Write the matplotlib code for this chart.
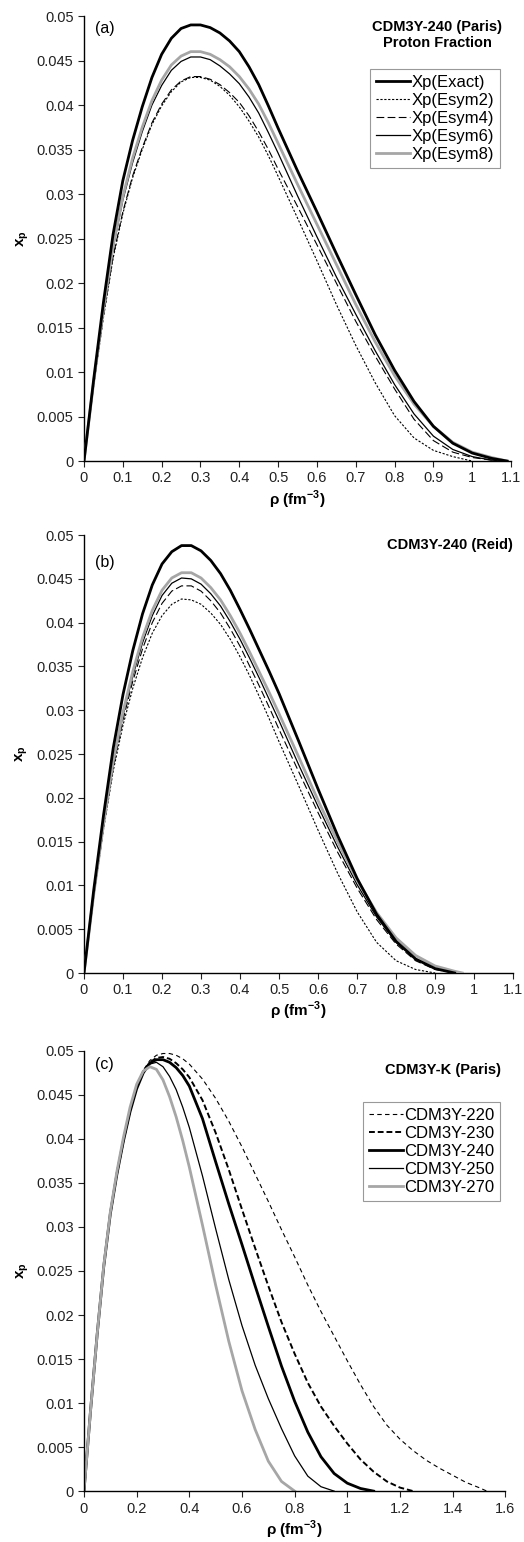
import numpy as np
import matplotlib
matplotlib.use('Agg')
import matplotlib.pyplot as plt

plt.rcParams['font.family'] = ['Liberation Sans', 'DejaVu Sans']
plt.rcParams['mathtext.fontset'] = 'custom'
plt.rcParams['mathtext.rm'] = 'Liberation Sans'
plt.rcParams['mathtext.bf'] = 'Liberation Sans:bold'

nan = np.nan

# (a) CDM3Y-240 (Paris)
rho_a = [0, 0.025, 0.05, 0.075, 0.1, 0.125, 0.15, 0.175, 0.2, 0.225, 0.25, 0.275, 0.3, 0.325,
         0.35, 0.375, 0.4, 0.425, 0.45, 0.475, 0.5, 0.55, 0.6, 0.65, 0.7, 0.75, 0.8, 0.85, 0.9,
         0.95, 1.0, 1.05, 1.09]
exact_a = [0, 0.0092, 0.0178, 0.0255, 0.0315, 0.0360, 0.0398, 0.0431, 0.0457, 0.0475, 0.0486,
           0.0490, 0.0490, 0.0487, 0.0481, 0.0472, 0.0460, 0.0443, 0.0423, 0.0399, 0.0374,
           0.0326, 0.0280, 0.0233, 0.0187, 0.0142, 0.0102, 0.0067, 0.0039, 0.0020, 0.0009,
           0.0003, 0.0]
esym2_a = [0, 0.0085, 0.0161, 0.0228, 0.0278, 0.0318, 0.0350, 0.0378, 0.0399, 0.0415, 0.0426,
           0.0431, 0.0431, 0.0428, 0.0421, 0.0411, 0.0398, 0.0382, 0.0364, 0.0343, 0.0320,
           0.0273, 0.0225, 0.0176, 0.0130, 0.0088, 0.0051, 0.0026, 0.0012, 0.0005, 0.0, nan, nan]
esym4_a = [0, 0.0086, 0.0163, 0.0230, 0.0280, 0.0320, 0.0352, 0.0380, 0.0401, 0.0417, 0.0427,
           0.0432, 0.0432, 0.0429, 0.0423, 0.0414, 0.0403, 0.0388, 0.0370, 0.0350, 0.0328,
           0.0286, 0.0243, 0.0200, 0.0157, 0.0118, 0.0081, 0.0047, 0.0023, 0.0010, 0.0004,
           0.0001, 0.0]
esym6_a = [0, 0.0088, 0.0168, 0.0239, 0.0293, 0.0335, 0.0370, 0.0400, 0.0422, 0.0439, 0.0449,
           0.0454, 0.0454, 0.0451, 0.0444, 0.0435, 0.0424, 0.0409, 0.0391, 0.0369, 0.0346,
           0.0298, 0.0252, 0.0207, 0.0165, 0.0124, 0.0086, 0.0053, 0.0028, 0.0013, 0.0005,
           0.0001, 0.0]
esym8_a = [0, 0.0089, 0.0170, 0.0242, 0.0297, 0.0340, 0.0375, 0.0405, 0.0428, 0.0445, 0.0455,
           0.0460, 0.0460, 0.0457, 0.0451, 0.0443, 0.0432, 0.0418, 0.0401, 0.0380, 0.0357,
           0.0311, 0.0266, 0.0221, 0.0176, 0.0134, 0.0096, 0.0064, 0.0039, 0.0021, 0.0010,
           0.0004, 0.0]

# (b) CDM3Y-240 (Reid)
rho_b = [0, 0.025, 0.05, 0.075, 0.1, 0.125, 0.15, 0.175, 0.2, 0.225, 0.25, 0.275, 0.3, 0.325,
         0.35, 0.375, 0.4, 0.425, 0.45, 0.475, 0.5, 0.55, 0.6, 0.65, 0.7, 0.75, 0.8, 0.85, 0.9,
         0.95, 0.97]
exact_b = [0, 0.0095, 0.0180, 0.0257, 0.0318, 0.0368, 0.0410, 0.0443, 0.0467, 0.0481, 0.0488,
           0.0488, 0.0482, 0.0471, 0.0456, 0.0437, 0.0415, 0.0392, 0.0368, 0.0344, 0.0319,
           0.0265, 0.0210, 0.0157, 0.0108, 0.0067, 0.0036, 0.0016, 0.0005, 0.0, nan]
esym2_b = [0, 0.0087, 0.0164, 0.0231, 0.0283, 0.0325, 0.0360, 0.0388, 0.0408, 0.0421, 0.0427,
           0.0426, 0.0421, 0.0411, 0.0398, 0.0381, 0.0361, 0.0339, 0.0315, 0.0290, 0.0264,
           0.0214, 0.0163, 0.0114, 0.0070, 0.0035, 0.0014, 0.0004, 0.0, nan, nan]
esym4_b = [0, 0.0088, 0.0166, 0.0235, 0.0289, 0.0333, 0.0370, 0.0400, 0.0422, 0.0436, 0.0442,
           0.0442, 0.0436, 0.0425, 0.0411, 0.0393, 0.0373, 0.0350, 0.0327, 0.0303, 0.0278,
           0.0230, 0.0183, 0.0138, 0.0097, 0.0061, 0.0033, 0.0014, 0.0004, 0.0, nan]
esym6_b = [0, 0.0089, 0.0168, 0.0239, 0.0294, 0.0339, 0.0377, 0.0408, 0.0431, 0.0445, 0.0451,
           0.0450, 0.0444, 0.0433, 0.0419, 0.0401, 0.0381, 0.0359, 0.0336, 0.0312, 0.0288,
           0.0238, 0.0190, 0.0144, 0.0101, 0.0064, 0.0035, 0.0016, 0.0005, 0.0, nan]
esym8_b = [0, 0.0090, 0.0170, 0.0242, 0.0298, 0.0344, 0.0383, 0.0414, 0.0437, 0.0451, 0.0457,
           0.0457, 0.0451, 0.0440, 0.0426, 0.0408, 0.0388, 0.0366, 0.0343, 0.0320, 0.0296,
           0.0247, 0.0197, 0.0150, 0.0106, 0.0069, 0.0040, 0.0020, 0.0008, 0.0002, 0.0]

# (c) CDM3Y-K (Paris)
rho_c = [0, 0.025, 0.05, 0.075, 0.1, 0.125, 0.15, 0.175, 0.2, 0.225, 0.25, 0.275, 0.3, 0.325,
         0.35, 0.375, 0.4, 0.45, 0.5, 0.55, 0.6, 0.65, 0.7, 0.75, 0.8, 0.85, 0.9, 0.95, 1.0,
         1.05, 1.1, 1.15, 1.2, 1.25, 1.3, 1.35, 1.4, 1.45, 1.5, 1.53]
k220 = [0, 0.0092, 0.0178, 0.0255, 0.0315, 0.0360, 0.0398, 0.0432, 0.0460, 0.0478, 0.0489,
        0.0495, 0.0497, 0.0497, 0.0495, 0.0491, 0.0485, 0.0468, 0.0446, 0.0420, 0.0391, 0.0360,
        0.0329, 0.0297, 0.0266, 0.0234, 0.0204, 0.0176, 0.0148, 0.0121, 0.0096, 0.0075, 0.0059,
        0.0046, 0.0035, 0.0026, 0.0018, 0.0010, 0.0004, 0.0]
k230 = [0, 0.0092, 0.0178, 0.0255, 0.0315, 0.0360, 0.0398, 0.0432, 0.0460, 0.0477, 0.0487,
        0.0492, 0.0493, 0.0491, 0.0486, 0.0479, 0.0470, 0.0444, 0.0407, 0.0365, 0.0320, 0.0276,
        0.0233, 0.0192, 0.0156, 0.0123, 0.0096, 0.0074, 0.0054, 0.0036, 0.0022, 0.0011, 0.0004,
        0.0, nan, nan, nan, nan, nan, nan]
k240 = [0, 0.0092, 0.0178, 0.0255, 0.0315, 0.0360, 0.0398, 0.0431, 0.0457, 0.0475, 0.0486,
        0.0490, 0.0490, 0.0487, 0.0481, 0.0472, 0.0460, 0.0423, 0.0374, 0.0326, 0.0280, 0.0233,
        0.0187, 0.0142, 0.0102, 0.0067, 0.0039, 0.0020, 0.0009, 0.0003, 0.0, nan, nan, nan, nan,
        nan, nan, nan, nan, nan]
k250 = [0, 0.0092, 0.0178, 0.0255, 0.0315, 0.0360, 0.0399, 0.0434, 0.0460, 0.0476, 0.0485,
        0.0487, 0.0482, 0.0471, 0.0456, 0.0436, 0.0413, 0.0358, 0.0298, 0.0240, 0.0188, 0.0143,
        0.0105, 0.0071, 0.0040, 0.0017, 0.0005, 0.0, nan, nan, nan, nan, nan, nan, nan, nan, nan,
        nan, nan, nan]
k270 = [0, 0.0092, 0.0178, 0.0256, 0.0317, 0.0363, 0.0402, 0.0436, 0.0462, 0.0477, 0.0482,
        0.0479, 0.0467, 0.0448, 0.0425, 0.0398, 0.0368, 0.0302, 0.0234, 0.0170, 0.0114, 0.0070,
        0.0034, 0.0011, 0.0, nan, nan, nan, nan, nan, nan, nan, nan, nan, nan, nan, nan, nan,
        nan, nan]

yticks = [0, 0.005, 0.01, 0.015, 0.02, 0.025, 0.03, 0.035, 0.04, 0.045, 0.05]
gray = '#a6a6a6'

style_esym = [
    ('Xp(Exact)', dict(color='black', lw=2.0, ls='-')),
    ('Xp(Esym2)', dict(color='black', lw=0.8, ls=(0, (2, 1.5)))),
    ('Xp(Esym4)', dict(color='black', lw=0.8, ls=(0, (7, 3)))),
    ('Xp(Esym6)', dict(color='black', lw=0.9, ls='-')),
    ('Xp(Esym8)', dict(color=gray, lw=2.0, ls='-')),
]
style_k = [
    ('CDM3Y-220', dict(color='black', lw=0.8, ls=(0, (4, 3)))),
    ('CDM3Y-230', dict(color='black', lw=1.4, ls=(0, (3, 1.5)))),
    ('CDM3Y-240', dict(color='black', lw=2.0, ls='-')),
    ('CDM3Y-250', dict(color='black', lw=0.9, ls='-')),
    ('CDM3Y-270', dict(color=gray, lw=2.0, ls='-')),
]


def setup_axis(ax, xmax, xstep):
    ax.set_xlim(0, xmax)
    ax.set_ylim(0, 0.05)
    ax.set_xticks(np.round(np.arange(0, xmax + 1e-9, xstep), 2))
    ax.xaxis.set_major_formatter(plt.FuncFormatter(lambda v, p: '{:g}'.format(v)))
    ax.set_yticks(yticks)
    ax.set_yticklabels(['{:g}'.format(v) for v in yticks])
    for side in ['top', 'right']:
        ax.spines[side].set_visible(False)
    for side in ['left', 'bottom']:
        ax.spines[side].set_linewidth(1.0)
    ax.tick_params(direction='out', length=4, width=0.8, labelsize=10.5, colors='#222222')
    ax.set_xlabel(r'$\mathbf{\rho}$ (fm$^{\mathbf{-3}}$)', fontsize=11, fontweight='bold', labelpad=2)
    ax.set_ylabel(r'x$_\mathbf{p}$', fontsize=11, fontweight='bold')
    ax.yaxis.set_label_coords(-0.125, 0.5)


def add_legend(ax, anchor):
    leg = ax.legend(loc='upper right', bbox_to_anchor=anchor, fontsize=12, handlelength=2.0,
                    handletextpad=0.1, labelspacing=0.18, borderpad=0.35, fancybox=False,
                    edgecolor='#999999', framealpha=1)
    leg.get_frame().set_linewidth(0.8)


fig = plt.figure(figsize=(5.24, 15.42), dpi=100)
ax_a = fig.add_axes([0.1603, 0.701, 0.815, 0.2886])
ax_b = fig.add_axes([0.1603, 0.369, 0.819, 0.284])
ax_c = fig.add_axes([0.1603, 0.033, 0.804, 0.2855])

for ax, rho, series in [(ax_a, rho_a, [exact_a, esym2_a, esym4_a, esym6_a, esym8_a]),
                        (ax_b, rho_b, [exact_b, esym2_b, esym4_b, esym6_b, esym8_b])]:
    for i, ys in enumerate(series):
        label, st = style_esym[i]
        ax.plot(rho, ys, label=label, zorder=4 if i == 0 else 3, **st)
    setup_axis(ax, 1.1, 0.1)

for i, ys in enumerate([k220, k230, k240, k250, k270]):
    label, st = style_k[i]
    ax_c.plot(rho_c, ys, label=label, **st)
setup_axis(ax_c, 1.6, 0.2)

add_legend(ax_a, (0.993, 0.9))
add_legend(ax_c, (1.008, 0.903))

# titles and panel tags
ax_a.text(0.827, 0.99, 'CDM3Y-240 (Paris)\nProton Fraction', transform=ax_a.transAxes,
          ha='center', va='top', fontsize=10.5, fontweight='bold', linespacing=1.1)
ax_b.text(0.853, 0.977, 'CDM3Y-240 (Reid)', transform=ax_b.transAxes,
          ha='center', va='center', fontsize=10.5, fontweight='bold')
ax_c.text(0.853, 0.957, 'CDM3Y-K (Paris)', transform=ax_c.transAxes,
          ha='center', va='center', fontsize=10.5, fontweight='bold')
for ax, tag, ypos in [(ax_a, '(a)', 0.972), (ax_b, '(b)', 0.938), (ax_c, '(c)', 0.97)]:
    ax.text(0.025, ypos, tag, transform=ax.transAxes, ha='left', va='center', fontsize=11.5)

fig.savefig('out.png', dpi=100)
